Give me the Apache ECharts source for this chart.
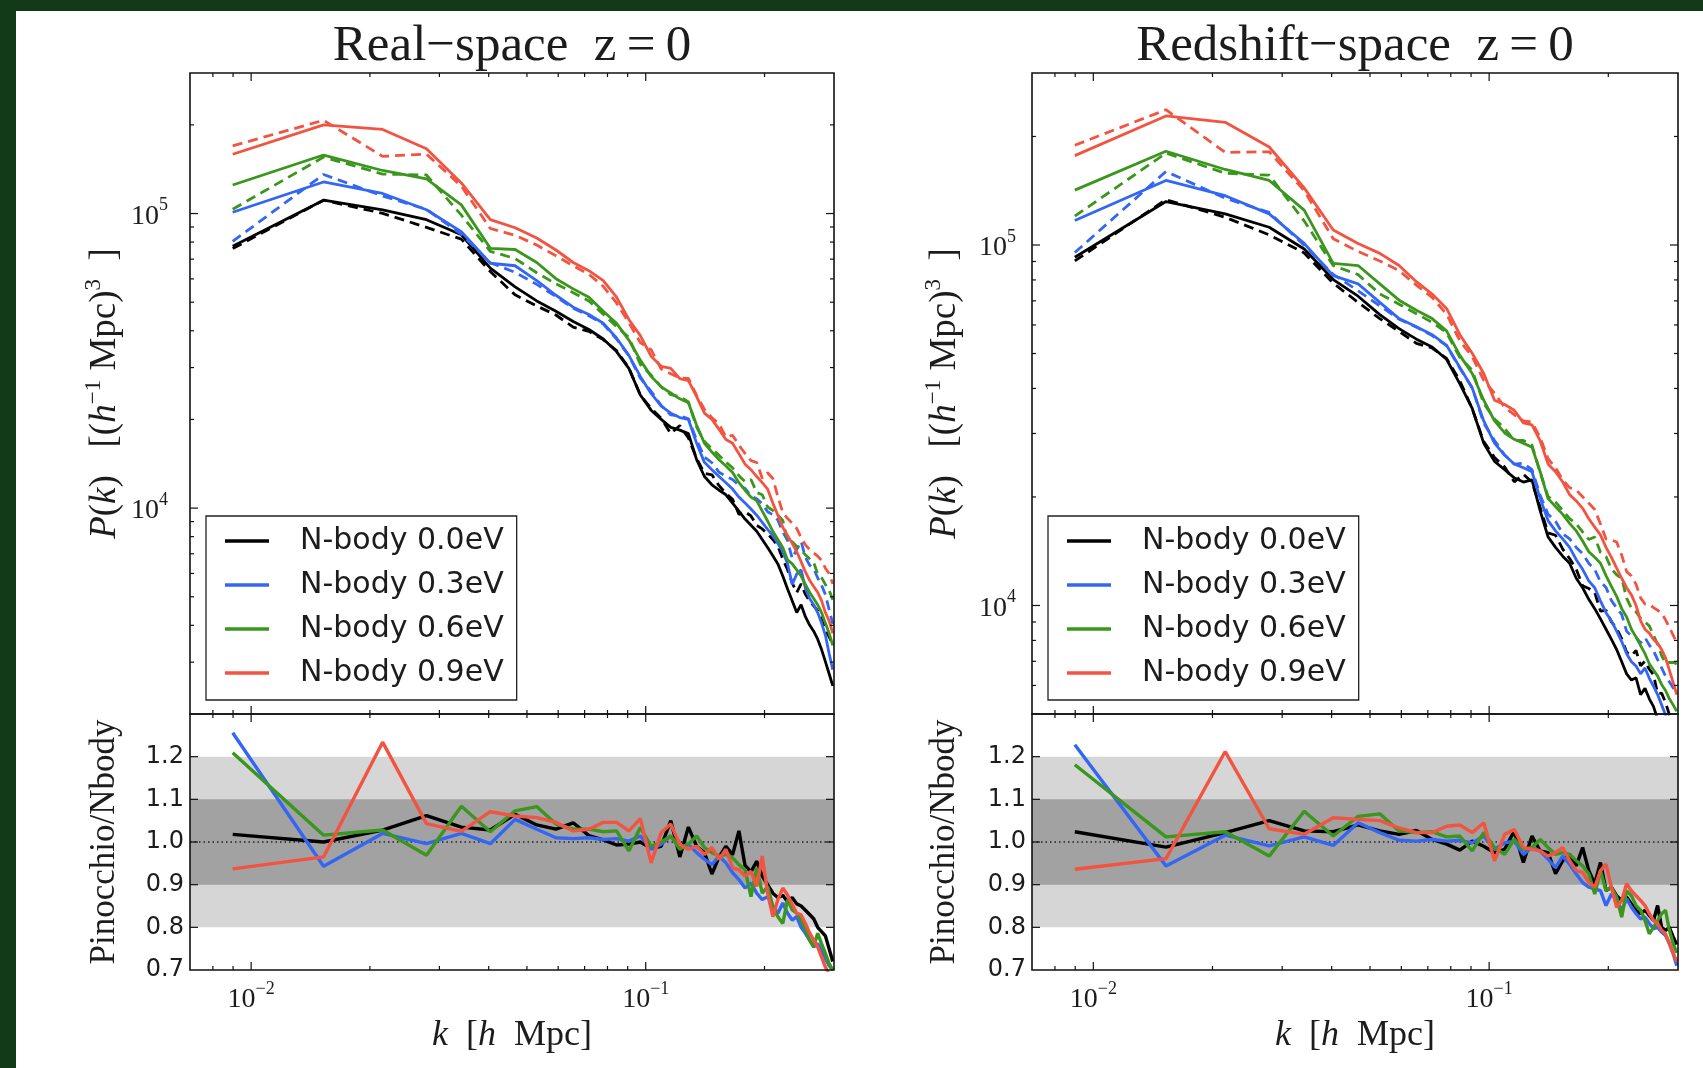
<!DOCTYPE html>
<html>
<head>
<meta charset="utf-8">
<script src="https://cdn.jsdelivr.net/npm/echarts@6/dist/echarts.min.js"></script>
<style>
  html, body { margin: 0; padding: 0; background: #123a18; }
  #chart { width: 1703px; height: 1068px; }
</style>
</head>
<body>
<div id="chart"></div>
<script>
// Wavenumber bins k [h/Mpc]
const kBins = [0.00898, 0.01526, 0.02154, 0.02782, 0.0341, 0.04038, 0.04666, 0.05294, 0.05922, 0.0655,
  0.07178, 0.07806, 0.08434, 0.09062, 0.0969, 0.10318, 0.10946, 0.11574, 0.12202, 0.1283,
  0.13458, 0.14086, 0.14714, 0.15342, 0.1597, 0.16598, 0.17226, 0.17854, 0.18482, 0.1911,
  0.19738, 0.20366, 0.20994, 0.21622, 0.2225, 0.22878, 0.23506, 0.24134, 0.24762, 0.2539,
  0.26018, 0.26646, 0.27274, 0.27902, 0.2853, 0.29158, 0.29786];

const massLabels = ['N-body 0.0eV', 'N-body 0.3eV', 'N-body 0.6eV', 'N-body 0.9eV'];
const pinoLabels = ['Pinocchio 0.0eV', 'Pinocchio 0.3eV', 'Pinocchio 0.6eV', 'Pinocchio 0.9eV'];
const massColors = ['#000000', '#3466f4', '#3a961c', '#f25441'];

// Real space, N-body P(k)
const realNbody00 = [77400, 111000, 103000, 95300, 84700, 65300, 56400, 50500, 46600, 43000,
  40400, 37500, 34000, 29800, 24200, 21500, 20000, 18800, 18400, 17900,
  14600, 12800, 12000, 11500, 11100, 10400, 9770, 9180, 8750, 8340,
  7820, 7350, 6890, 6460, 5880, 5310, 4850, 4420, 4700, 4280,
  4010, 3820, 3590, 3310, 3010, 2740, 2490];
const realNbody03 = [101000, 128000, 117000, 103000, 86700, 67800, 66500, 59200, 52800, 48100,
  45400, 42400, 37800, 33000, 28000, 24500, 22200, 21000, 20300, 20000,
  16600, 14300, 13500, 12800, 12200, 11600, 10900, 10400, 9930, 9460,
  8950, 8470, 8070, 7590, 7110, 6470, 5510, 5970, 6170, 5350,
  4930, 4700, 4420, 4070, 3700, 3210, 2830];
const realNbody06 = [125000, 158000, 140000, 131000, 107000, 76200, 75500, 68200, 60100, 55500,
  52000, 46600, 42400, 37200, 31800, 28000, 25800, 24600, 23500, 22800,
  19100, 16600, 15500, 14600, 13900, 13200, 12200, 11500, 10900, 10600,
  9770, 9040, 8340, 7820, 7350, 6670, 6470, 6170, 5880, 5510,
  5180, 4930, 4700, 4420, 4070, 3760, 3420];
const realNbody09 = [159000, 200000, 193000, 166000, 127000, 95300, 89500, 82600, 75200, 68200,
  64000, 59200, 52000, 43700, 38500, 32800, 30300, 29800, 27500, 27100,
  23900, 21000, 20000, 18500, 17100, 16600, 15300, 14100, 13500, 12800,
  12200, 11600, 10400, 9460, 8610, 8070, 7590, 7110, 6580, 6070,
  5690, 5420, 5180, 4850, 4420, 4140, 3760];

// Real space, ratio panel
const realRatio00 = [1.018, 1.00, 1.028, 1.062, 1.035, 1.028, 1.065, 1.04, 1.03, 1.045,
  1.015, 1.005, 0.993, 0.995, 1.0, 0.985, 0.99, 1.05, 0.965, 1.035,
  0.99, 0.975, 0.925, 0.965, 0.99, 0.97, 1.026, 0.945, 0.93, 0.955,
  0.92, 0.90, 0.88, 0.87, 0.875, 0.86, 0.87, 0.855, 0.85, 0.84,
  0.83, 0.82, 0.80, 0.79, 0.78, 0.75, 0.72];
const realRatio03 = [1.256, 0.943, 1.02, 0.996, 1.02, 0.996, 1.053, 1.03, 1.01, 1.008,
  1.01, 1.006, 1.008, 1.002, 1.014, 0.983, 0.995, 1.014, 0.987, 0.995,
  0.975, 0.96, 0.947, 0.967, 0.951, 0.928, 0.912, 0.892, 0.904, 0.88,
  0.865, 0.872, 0.85, 0.833, 0.857, 0.833, 0.817, 0.825, 0.80, 0.786,
  0.77, 0.754, 0.762, 0.744, 0.727, 0.71, 0.70];
const realRatio06 = [1.209, 1.016, 1.028, 0.969, 1.084, 1.024, 1.073, 1.083, 1.042, 1.03,
  1.03, 1.024, 1.026, 0.979, 1.034, 0.99, 1.0, 1.014, 0.983, 0.995,
  1.014, 0.987, 0.975, 0.967, 0.971, 0.963, 0.947, 0.935, 0.872, 0.939,
  0.88, 0.896, 0.849, 0.825, 0.809, 0.865, 0.841, 0.833, 0.817, 0.794,
  0.77, 0.754, 0.786, 0.762, 0.739, 0.715, 0.70];
const realRatio09 = [0.937, 0.965, 1.234, 1.043, 1.025, 1.071, 1.061, 1.057, 1.046, 1.026,
  1.03, 1.046, 1.046, 1.026, 1.055, 0.951, 1.022, 1.042, 0.994, 0.983,
  0.99, 0.971, 0.987, 0.959, 0.983, 0.939, 0.935, 0.92, 0.931, 0.896,
  0.967, 0.88, 0.825, 0.865, 0.892, 0.876, 0.854, 0.833, 0.829, 0.809,
  0.787, 0.77, 0.754, 0.73, 0.707, 0.69, 0.68];

// Redshift space, N-body P(k)
const zNbody00 = [92500, 132000, 122000, 112000, 97500, 80200, 72100, 64100, 58600, 54800,
  52100, 48200, 41200, 35200, 28200, 25100, 23800, 22600, 22000, 22300,
  18300, 15500, 14500, 13700, 13100, 11900, 11200, 10400, 9800, 9180,
  8590, 8050, 7550, 6980, 6460, 6210, 6300, 5660, 5890, 5510,
  5240, 4840, 4570, 4270, 3980, 3720, 3470];
const zNbody03 = [117000, 151000, 137000, 122000, 101000, 82200, 78000, 69300, 62500, 59300,
  56400, 52700, 45700, 40100, 32500, 28200, 26100, 24700, 24100, 23500,
  19800, 17200, 16100, 15300, 14500, 13400, 12600, 11700, 11200, 10300,
  9550, 9060, 8490, 7940, 7350, 6980, 6790, 6460, 6710, 6280,
  5970, 5660, 5300, 4970, 4680, 4370, 4070];
const zNbody06 = [142000, 182000, 162000, 151000, 125000, 88900, 87700, 78000, 70300, 65900,
  62500, 57800, 49400, 44000, 37100, 32500, 30100, 28900, 28200, 27500,
  23500, 19800, 18800, 17900, 16900, 16100, 15100, 14100, 13600, 13100,
  12100, 11300, 10600, 9800, 9290, 8590, 8170, 7740, 7350, 6890,
  6620, 6370, 6040, 5810, 5510, 5300, 5090];
const zNbody09 = [177000, 228000, 219000, 187000, 144000, 110000, 101000, 94800, 87700, 79100,
  73100, 66700, 56400, 50100, 44000, 37100, 36100, 34800, 32100, 31700,
  28600, 24700, 23500, 22000, 20300, 19500, 18600, 17400, 16500, 15700,
  14500, 13600, 12700, 11900, 11200, 10700, 10000, 9060, 8590, 8380,
  8050, 7850, 7550, 7160, 6620, 6120, 5660];

// Redshift space, ratio panel
const zRatio00 = [1.024, 0.988, 1.022, 1.05, 1.026, 1.024, 1.04, 1.026, 1.018, 1.027,
  1.006, 0.995, 0.981, 1.002, 0.99, 0.975, 0.983, 1.026, 0.952, 1.014,
  0.979, 0.975, 0.926, 0.956, 0.971, 0.944, 0.987, 0.933, 0.902, 0.952,
  0.886, 0.894, 0.874, 0.863, 0.871, 0.855, 0.84, 0.832, 0.84, 0.828,
  0.816, 0.851, 0.80, 0.793, 0.80, 0.778, 0.76];
const zRatio03 = [1.228, 0.944, 1.016, 0.991, 1.012, 0.992, 1.045, 1.022, 1.004, 1.002,
  1.006, 1.002, 1.004, 0.998, 1.014, 0.983, 0.998, 1.002, 0.971, 0.987,
  0.979, 0.96, 0.94, 0.967, 0.948, 0.925, 0.905, 0.894, 0.89, 0.886,
  0.851, 0.878, 0.863, 0.84, 0.867, 0.847, 0.832, 0.82, 0.824, 0.809,
  0.797, 0.80, 0.789, 0.781, 0.762, 0.739, 0.71];
const zRatio06 = [1.181, 1.012, 1.024, 0.967, 1.072, 1.014, 1.06, 1.066, 1.026, 1.022,
  1.024, 1.012, 1.014, 0.979, 1.022, 0.987, 0.971, 1.006, 0.983, 0.987,
  1.006, 0.987, 0.971, 0.975, 0.971, 0.956, 0.944, 0.925, 0.878, 0.933,
  0.886, 0.894, 0.871, 0.824, 0.886, 0.874, 0.851, 0.84, 0.816, 0.785,
  0.80, 0.816, 0.832, 0.84, 0.793, 0.762, 0.74];
const zRatio09 = [0.936, 0.961, 1.212, 1.031, 1.018, 1.057, 1.053, 1.05, 1.033, 1.022,
  1.022, 1.037, 1.04, 1.022, 1.045, 0.956, 1.018, 1.029, 0.987, 0.983,
  0.979, 0.967, 0.975, 0.987, 0.956, 0.933, 0.929, 0.905, 0.894, 0.933,
  0.948, 0.894, 0.847, 0.863, 0.902, 0.886, 0.874, 0.863, 0.851, 0.832,
  0.816, 0.809, 0.793, 0.785, 0.762, 0.739, 0.72];

// Axis ranges and tick positions
const kRange = [0.007, 0.3];
const kMajorTicks = [0.01, 0.1];
const kMinorTicks = [0.008, 0.009, 0.02, 0.03, 0.04, 0.05, 0.06, 0.07, 0.08, 0.09, 0.2];
const pkMajorTicks = [1e4, 1e5];
const pkMinorTicksReal = [3e3, 4e3, 5e3, 6e3, 7e3, 8e3, 9e3, 2e4, 3e4, 4e4, 5e4, 6e4, 7e4, 8e4, 9e4, 2e5];
const pkMinorTicksRedshift = [6e3, 7e3, 8e3, 9e3, 2e4, 3e4, 4e4, 5e4, 6e4, 7e4, 8e4, 9e4, 2e5];
const ratioRange = [0.7, 1.3];
const ratioTicks = [0.8, 0.9, 1.0, 1.1, 1.2];
const bandLimits = [[0.8, 1.2], [0.9, 1.1]];
const bandShades = ['#d6d6d6', '#a2a2a2'];

const serif = "'Liberation Serif', 'DejaVu Serif', serif";
const sans = "'DejaVu Sans', sans-serif";
const ink = '#1c1c1c';

const panels = [
  { title: 'Real\u2212space  z\u2009=\u20090', left: 190, width: 644, pkMin: 2000,
    nbody: [realNbody00, realNbody03, realNbody06, realNbody09],
    ratio: [realRatio00, realRatio03, realRatio06, realRatio09],
    pkMinor: pkMinorTicksReal, pkLabelMargin: 22, nameGap: 62, legendLeft: 206 },
  { title: 'Redshift\u2212space  z\u2009=\u20090', left: 1032, width: 646, pkMin: 5000,
    nbody: [zNbody00, zNbody03, zNbody06, zNbody09],
    ratio: [zRatio00, zRatio03, zRatio06, zRatio09],
    pkMinor: pkMinorTicksRedshift, pkLabelMargin: 16, nameGap: 64, legendLeft: 1048 }
];
const upperTop = 73, upperHeight = 641, lowerTop = 714, lowerHeight = 256;

function powLabel(v) {
  const lg = Math.log10(v);
  const e = Math.round(lg);
  if (Math.abs(lg - e) > 1e-6) return '';
  return '{b|10}{s|' + (e < 0 ? '\u2212' + (-e) : String(e)) + '}';
}
const powRich = {
  b: { fontFamily: serif, fontSize: 28, color: ink, lineHeight: 34, verticalAlign: 'bottom' },
  s: { fontFamily: serif, fontSize: 18, color: ink, lineHeight: 18, verticalAlign: 'top' }
};

// Inside ticks on all four sides plus the axes frame (matplotlib look)
function tickRenderer(params, api) {
  const cs = params.coordSys;
  const kind = api.value(2);
  const p = api.coord([api.value(0), api.value(1)]);
  const st = { stroke: '#111', lineWidth: 1.2 };
  if (kind === 4) {
    return { type: 'rect', shape: { x: cs.x, y: cs.y, width: cs.width, height: cs.height },
      style: { stroke: '#111', lineWidth: 1.6, fill: null } };
  }
  const len = (kind === 0 || kind === 2) ? 8 : 4;
  let segs;
  if (kind < 2) {
    segs = [[p[0], cs.y + cs.height, p[0], cs.y + cs.height - len], [p[0], cs.y, p[0], cs.y + len]];
  } else {
    segs = [[cs.x, p[1], cs.x + len, p[1]], [cs.x + cs.width, p[1], cs.x + cs.width - len, p[1]]];
  }
  return { type: 'group', children: segs.map(s => ({ type: 'line',
    shape: { x1: s[0], y1: s[1], x2: s[2], y2: s[3] }, style: st })) };
}
function tickData(xRef, yRef, yMajor, yMinor) {
  const d = [];
  kMajorTicks.forEach(v => d.push([v, yRef, 0]));
  kMinorTicks.forEach(v => d.push([v, yRef, 1]));
  yMajor.forEach(v => d.push([xRef, v, 2]));
  yMinor.forEach(v => d.push([xRef, v, 3]));
  d.push([xRef, yRef, 4]);
  return d;
}

const grid = [], xAxis = [], yAxis = [], series = [], title = [], legend = [];

panels.forEach((p, pi) => {
  const gu = 2 * pi, gl = 2 * pi + 1;
  grid.push({ left: p.left, top: upperTop, width: p.width, height: upperHeight, show: true,
    backgroundColor: '#fff', borderWidth: 0, containLabel: false });
  grid.push({ left: p.left, top: lowerTop, width: p.width, height: lowerHeight, show: true,
    backgroundColor: '#fff', borderWidth: 0, containLabel: false });

  const xBase = { type: 'log', logBase: 10, min: kRange[0], max: kRange[1],
    axisLine: { show: false }, axisTick: { show: false }, splitLine: { show: false }, minorTick: { show: false } };
  xAxis.push(Object.assign({}, xBase, { gridIndex: gu, axisLabel: { show: false } }));
  xAxis.push(Object.assign({}, xBase, { gridIndex: gl,
    axisLabel: { show: true, margin: 10, formatter: powLabel, rich: powRich },
    name: '{i|k}{r|  [}{i|h}{r|  Mpc]}', nameLocation: 'middle', nameGap: 45,
    nameTextStyle: { rich: {
      r: { fontFamily: serif, fontSize: 36, color: ink, lineHeight: 42 },
      i: { fontFamily: serif, fontStyle: 'italic', fontSize: 36, color: ink, lineHeight: 42 } } } }));

  yAxis.push({ type: 'log', logBase: 10, gridIndex: gu, min: p.pkMin, max: 3e5,
    axisLine: { show: false }, axisTick: { show: false }, splitLine: { show: false },
    axisLabel: { show: true, margin: p.pkLabelMargin, formatter: powLabel, rich: powRich },
    name: '{i|P}{r|(}{i|k}{r|)   [(}{i|h}{s|\u22121}{r| Mpc)}{s|3}{r|  ]}',
    nameLocation: 'middle', nameRotate: 90, nameGap: p.nameGap,
    nameTextStyle: { rich: {
      r: { fontFamily: serif, fontSize: 37, color: ink, lineHeight: 46 },
      i: { fontFamily: serif, fontStyle: 'italic', fontSize: 37, color: ink, lineHeight: 46 },
      s: { fontFamily: serif, fontSize: 23, color: ink, lineHeight: 20, verticalAlign: 'top' } } } });
  yAxis.push({ type: 'value', gridIndex: gl, min: ratioRange[0], max: ratioRange[1], interval: 0.1,
    axisLine: { show: false }, axisTick: { show: false }, splitLine: { show: false },
    axisLabel: { show: true, margin: 6, fontFamily: sans, fontSize: 24, color: ink,
      formatter: v => (v > 1.25 ? '' : v.toFixed(1)) },
    name: 'Pinocchio/Nbody', nameLocation: 'middle', nameRotate: 90, nameGap: p.nameGap + 3,
    nameTextStyle: { fontFamily: serif, fontSize: 35, color: ink, lineHeight: 40 } });

  title.push({ text: p.title, left: p.left + p.width / 2, top: 21, textAlign: 'center', padding: 0,
    textStyle: { fontFamily: serif, fontSize: 51, fontWeight: 'normal', color: ink } });

  legend.push({ data: massLabels, orient: 'vertical', left: p.legendLeft, top: 516,
    icon: 'rect', itemWidth: 44, itemHeight: 3.5, itemGap: 12, selectedMode: false,
    backgroundColor: '#fff', borderColor: '#222', borderWidth: 1.3, borderRadius: 0,
    padding: [9, 13, 11, 19],
    textStyle: { fontFamily: sans, fontSize: 30, color: ink, lineHeight: 32, padding: [0, 0, 0, 26] },
    z: 20 });

  // shaded bands and the unit reference line of the ratio panel
  series.push({ type: 'custom', name: 'bands', xAxisIndex: gl, yAxisIndex: gl, silent: true, z: 1,
    data: bandLimits.map((b, i) => [0.05, b[0], b[1], i]),
    renderItem: (params, api) => {
      const cs = params.coordSys;
      const lo = api.coord([api.value(0), api.value(1)])[1];
      const hi = api.coord([api.value(0), api.value(2)])[1];
      return { type: 'rect', shape: { x: cs.x, y: hi, width: cs.width, height: lo - hi },
        style: { fill: bandShades[api.value(3)], stroke: null } };
    } });
  series.push({ type: 'custom', name: 'unity', xAxisIndex: gl, yAxisIndex: gl, silent: true, z: 2,
    data: [[0.05, 1.0]],
    renderItem: (params, api) => {
      const cs = params.coordSys;
      const y = api.coord([api.value(0), api.value(1)])[1];
      return { type: 'line', shape: { x1: cs.x, y1: y, x2: cs.x + cs.width, y2: y },
        style: { stroke: '#222', lineWidth: 1.3, lineDash: [1.5, 3] } };
    } });

  massLabels.forEach((name, mi) => {
    const col = massColors[mi];
    const nb = p.nbody[mi], rt = p.ratio[mi];
    series.push({ type: 'line', name: name, xAxisIndex: gu, yAxisIndex: gu, z: 3,
      data: kBins.map((k, i) => [k, nb[i]]), symbol: 'none', color: col,
      itemStyle: { color: col }, lineStyle: { color: col, width: 2.8 }, clip: true });
    // Pinocchio spectrum follows from the N-body spectrum and the ratio panel values
    series.push({ type: 'line', name: pinoLabels[mi], xAxisIndex: gu, yAxisIndex: gu, z: 3,
      data: kBins.map((k, i) => [k, nb[i] / rt[i]]), symbol: 'none', color: col,
      itemStyle: { color: col }, lineStyle: { color: col, width: 2.8, type: [10, 6] }, clip: true });
    series.push({ type: 'line', name: 'ratio ' + name, xAxisIndex: gl, yAxisIndex: gl, z: 4,
      data: kBins.map((k, i) => [k, rt[i]]), symbol: 'none', color: col,
      itemStyle: { color: col }, lineStyle: { color: col, width: 3.4 }, clip: true });
  });

  series.push({ type: 'custom', name: 'ticks-upper', xAxisIndex: gu, yAxisIndex: gu, silent: true, z: 10,
    clip: false, data: tickData(0.05, 5e4, pkMajorTicks, p.pkMinor), renderItem: tickRenderer });
  series.push({ type: 'custom', name: 'ticks-lower', xAxisIndex: gl, yAxisIndex: gl, silent: true, z: 10,
    clip: false, data: tickData(0.05, 1.0, ratioTicks, []), renderItem: tickRenderer });
});

const chart = echarts.init(document.getElementById('chart'), null, { renderer: 'canvas', width: 1703, height: 1068 });
chart.setOption({
  animation: false,
  backgroundColor: '#123a18',
  graphic: [
    { type: 'rect', silent: true, z: -5, shape: { x: 16, y: 11, width: 1703 - 16, height: 1068 - 11 },
      style: { fill: '#ffffff' } }
  ],
  title: title,
  legend: legend,
  grid: grid,
  xAxis: xAxis,
  yAxis: yAxis,
  series: series
});
</script>
</body>
</html>
